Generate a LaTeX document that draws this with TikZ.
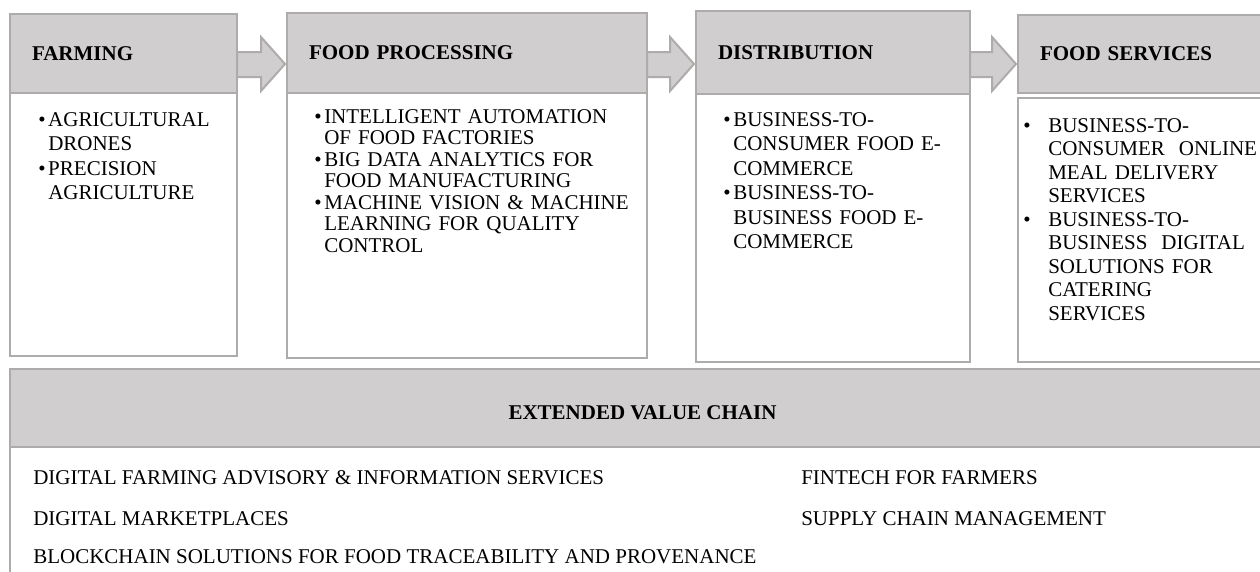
\documentclass[tikz,border=0pt]{standalone}
\usepackage{fontspec}
\setmainfont{Liberation Serif}
\usetikzlibrary{calc,positioning}
\definecolor{headgray}{HTML}{D0CECE}
\definecolor{edgegray}{HTML}{AEABAB}
\newcommand{\bul}[1][10pt]{\makebox[#1][l]{\textbullet}}
\newcommand{\ind}[1][10pt]{\makebox[#1]{}}
\newcommand{\chainarrow}[2]{%
    \draw[flowarrow] (#1.east |- 0,52) -- ($(#2.west |- 0,52)+(-26,0)$)
        -- ($(#2.west |- 0,37)+(-26,0)$) -- ($(#2.west |- 0,64)+(-2,0)$)
        -- ($(#2.west |- 0,91)+(-26,0)$) -- ($(#2.west |- 0,77)+(-26,0)$)
        -- (#1.east |- 0,77) -- cycle;}

\begin{document}
\begin{tikzpicture}[
    x=1pt,
    y=-1pt,
    line width=2.5pt,
    stagehead/.style={
        draw=edgegray,
        fill=headgray,
        anchor=north west,
        outer sep=0pt,
        inner xsep=22pt,
        align=left,
        font=\fontsize{21}{24}\selectfont\bfseries,
    },
    stagebody/.style={
        draw=edgegray,
        fill=white,
        anchor=north west,
        outer sep=0pt,
    },
    itemtext/.style={
        anchor=north west,
        inner sep=0pt,
        align=left,
        text width=340pt,
    },
    extline/.style={
        anchor=west,
        inner sep=0pt,
        font=\fontsize{21}{24}\selectfont,
    },
    flowarrow/.style={
        draw=edgegray,
        fill=headgray,
        line width=2pt,
    },
]
    \useasboundingbox (0,0) rectangle (1260,571);
    \clip (0,0) rectangle (1260,571);

    \node[stagehead, text width=183pt, minimum height=79pt] (farmh) at (10,14) {FARMING};
    \node[stagebody, minimum width=227pt, minimum height=263pt] (farmb) at (farmh.south west) {};

    \node[stagehead, text width=316pt, minimum height=80pt] (proch) at (287,13) {FOOD PROCESSING};
    \node[stagebody, minimum width=360pt, minimum height=265pt] (procb) at (proch.south west) {};

    \node[stagehead, text width=230pt, minimum height=83pt] (disth) at (696,11) {DISTRIBUTION};
    \node[stagebody, minimum width=274pt, minimum height=268pt] (distb) at (disth.south west) {};

    \node[stagehead, text width=213pt, minimum height=78pt] (servh) at (1018,15) {FOOD SERVICES};
    \node[stagebody, minimum width=257pt, minimum height=264pt] (servb) at ([shift={(0,5)}]servh.south west) {};

    \node[itemtext, font=\fontsize{21}{24.5}\selectfont] (farmt) at ([shift={(27,18)}]farmb.north west)
        {\bul AGRICULTURAL\\ \ind DRONES\\ \bul PRECISION\\ \ind AGRICULTURE};
    \node[itemtext, font=\fontsize{21}{21.5}\selectfont] (proct) at ([shift={(26,15)}]procb.north west)
        {\bul INTELLIGENT AUTOMATION\\ \ind OF FOOD FACTORIES\\
         \bul BIG DATA ANALYTICS FOR\\ \ind FOOD MANUFACTURING\\
         \bul MACHINE VISION \& MACHINE\\ \ind LEARNING FOR QUALITY\\ \ind CONTROL};
    \node[itemtext, font=\fontsize{21}{24.5}\selectfont] (distt) at ([shift={(26,17)}]distb.north west)
        {\bul BUSINESS-TO-\\ \ind CONSUMER FOOD E-\\ \ind COMMERCE\\
         \bul BUSINESS-TO-\\ \ind BUSINESS FOOD E-\\ \ind COMMERCE};
    \node[itemtext, font=\fontsize{21}{23.5}\selectfont] (servt) at ([shift={(4,19)}]servb.north west)
        {\bul[18pt] BUSINESS-TO-\\ \ind[18pt] CONSUMER\ \ ONLINE\\ \ind[18pt] MEAL DELIVERY\\ \ind[18pt] SERVICES\\
         \bul[18pt] BUSINESS-TO-\\ \ind[18pt] BUSINESS\ \ DIGITAL\\ \ind[18pt] SOLUTIONS FOR\\ \ind[18pt] CATERING\\ \ind[18pt] SERVICES};

    \chainarrow{farmh}{proch}
    \chainarrow{proch}{disth}
    \chainarrow{disth}{servh}

    \node[stagehead, align=center, inner xsep=0pt, minimum width=1265pt, minimum height=78pt, text height=24pt] (exth) at (10,369) {EXTENDED VALUE CHAIN};
    \node[stagebody, minimum width=1265pt, minimum height=160pt] (extb) at (exth.south west) {};

    \node[extline] (digfarm) at ([shift={(22,31)}]extb.north west) {DIGITAL FARMING ADVISORY \& INFORMATION SERVICES};
    \node[extline] (market) at ([shift={(22,72)}]extb.north west) {DIGITAL MARKETPLACES};
    \node[extline] (chain) at ([shift={(22,110)}]extb.north west) {BLOCKCHAIN SOLUTIONS FOR FOOD TRACEABILITY AND PROVENANCE};
    \node[extline] (fintech) at ([shift={(790,31)}]extb.north west) {FINTECH FOR FARMERS};
    \node[extline] (supply) at ([shift={(790,72)}]extb.north west) {SUPPLY CHAIN MANAGEMENT};
\end{tikzpicture}
\end{document}
